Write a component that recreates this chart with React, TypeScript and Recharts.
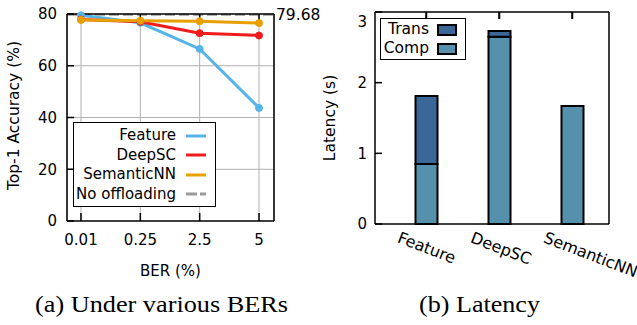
import React from 'react';
import {
  LineChart, Line, XAxis, YAxis, CartesianGrid, ReferenceLine, Legend,
  BarChart, Bar,
} from 'recharts';

// ---- data: (a) accuracy under various BERs ----
const berLabels = ['0.01', '0.25', '2.5', '5'];
const featureAcc = [79.5, 76.6, 66.5, 43.7];
const deepscAcc = [77.9, 77.0, 72.6, 71.7];
const semanticAcc = [77.7, 77.4, 77.2, 76.5];
const noOffloadingAcc = 79.68;
const accTicks = [0, 20, 40, 60, 80];

// ---- data: (b) latency ----
const methods = ['Feature', 'DeepSC', 'SemanticNN'];
const compLatency = [0.85, 2.65, 1.67];
const transLatency = [0.96, 0.08, 0];
const latTicks = [0, 1, 2, 3];
const latMax = 3;

const accData = berLabels.map((b, i) => ({
  ber: b,
  feature: featureAcc[i],
  deepsc: deepscAcc[i],
  semantic: semanticAcc[i],
}));
const latData = methods.map((m, i) => ({
  name: m,
  comp: compLatency[i],
  trans: transLatency[i],
}));

const SANS = 'DejaVu Sans';
const C_FEATURE = '#56b4e9';
const C_DEEPSC = '#ee1c1c';
const C_SEMANTIC = '#e8a000';
const C_NOOFF = '#999999';
const C_TRANS = '#3b6798';
const C_COMP = '#5591ad';

const tickStyle = { fontFamily: SANS, fontSize: 15, fill: '#000' };
const blank = () => '';

// bar background slot -> short inward tick mark hanging from the top frame at the bar centre
const TopTickBackground = (p: any) => {
  if (p.x == null || p.width == null || p.y == null) return <g />;
  const cx = p.x + p.width / 2;
  return <line x1={cx} x2={cx} y1={p.y} y2={p.y + 7} stroke="#000" strokeWidth={1.5} />;
};

const AccLegend = () => {
  const rows = [
    { label: 'Feature', color: C_FEATURE, dash: undefined },
    { label: 'DeepSC', color: C_DEEPSC, dash: undefined },
    { label: 'SemanticNN', color: C_SEMANTIC, dash: undefined },
    { label: 'No offloading', color: C_NOOFF, dash: '11 3' },
  ];
  return (
    <div
      style={{
        background: '#fff',
        border: '1.5px solid #000',
        width: 141,
        padding: '3px 0 2px 0',
        boxSizing: 'content-box',
        fontFamily: SANS,
        fontSize: 15,
        color: '#000',
        textAlign: 'right',
      }}
    >
      {rows.map((r) => (
        <div
          key={r.label}
          style={{
            height: 19.5,
            display: 'flex',
            alignItems: 'center',
            justifyContent: 'flex-end',
            paddingRight: 9,
          }}
        >
          <span style={{ lineHeight: '19.5px', whiteSpace: 'nowrap' }}>{r.label}</span>
          <svg width={20} height={6} style={{ marginLeft: 10, flex: 'none' }}>
            <line x1={0} y1={3} x2={20} y2={3} stroke={r.color} strokeWidth={3} strokeDasharray={r.dash} />
          </svg>
        </div>
      ))}
    </div>
  );
};

const LatLegend = () => {
  const rows = [
    { label: 'Trans', color: C_TRANS },
    { label: 'Comp', color: C_COMP },
  ];
  return (
    <div
      style={{
        background: '#fff',
        border: '1.5px solid #000',
        width: 84,
        padding: '1px 0 1px 0',
        fontFamily: SANS,
        fontSize: 15.5,
        color: '#000',
      }}
    >
      {rows.map((r) => (
        <div
          key={r.label}
          style={{
            height: 19,
            display: 'flex',
            alignItems: 'center',
            justifyContent: 'flex-end',
            paddingRight: 8,
          }}
        >
          <span style={{ lineHeight: '19px', whiteSpace: 'nowrap' }}>{r.label}</span>
          <div
            style={{
              width: 16,
              height: 8,
              marginLeft: 8,
              background: r.color,
              border: '2px solid #000',
              flex: 'none',
            }}
          />
        </div>
      ))}
    </div>
  );
};

const RotatedTick = (props: any) => {
  const { x, y, payload } = props;
  const bx = x - 29.5;
  const by = y + 18;
  return (
    <text
      x={bx}
      y={by}
      transform={`rotate(21, ${bx}, ${by})`}
      textAnchor="start"
      fontFamily={SANS}
      fontSize={16}
      fill="#000"
    >
      {payload.value}
    </text>
  );
};

const LatYTick = (props: any) => {
  const { x, y, payload } = props;
  const shift = payload.value === 3 ? 9.5 : 0;
  return (
    <text x={x} y={y + shift} dy="0.36em" textAnchor="end" fontFamily={SANS} fontSize={15} fill="#000">
      {payload.value}
    </text>
  );
};

const AccChart = () => (
  <LineChart
    width={330}
    height={325}
    data={accData}
    margin={{ top: 13, right: 55, bottom: 49, left: 0 }}
  >
    <CartesianGrid stroke="#b0b0b0" strokeWidth={1} horizontalValues={[20, 40, 60]} />
    <XAxis
      dataKey="ber"
      type="category"
      scale="point"
      padding={{ left: 14, right: 15 }}
      height={55}
      tickSize={-8}
      tickMargin={21}
      tick={tickStyle}
      axisLine={{ stroke: '#000', strokeWidth: 1.5 }}
      tickLine={{ stroke: '#000', strokeWidth: 1.5 }}
      interval={0}
      label={(p: any) => {
        const vb = p.viewBox;
        return (
          <text x={vb.x + vb.width / 2} y={vb.y + 55} textAnchor="middle" fontFamily={SANS} fontSize={15} fill="#000">
            BER (%)
          </text>
        );
      }}
    />
    <XAxis
      xAxisId="top"
      orientation="top"
      dataKey="ber"
      type="category"
      scale="point"
      padding={{ left: 14, right: 15 }}
      height={1}
      ticks={berLabels}
      tickSize={-7}
      tickFormatter={blank}
      interval={0}
      axisLine={{ stroke: '#000', strokeWidth: 1.5 }}
      tickLine={{ stroke: '#000', strokeWidth: 1.5 }}
    />
    <YAxis
      domain={[0, 80]}
      ticks={accTicks}
      width={67}
      tickSize={-7}
      tickMargin={17}
      tick={tickStyle}
      axisLine={{ stroke: '#000', strokeWidth: 1.5 }}
      tickLine={{ stroke: '#000', strokeWidth: 1.5 }}
      label={(p: any) => {
        const vb = p.viewBox;
        const cx = 14;
        const cy = vb.y + vb.height / 2 - 2;
        return (
          <text
            x={cx}
            y={cy}
            transform={`rotate(-90, ${cx}, ${cy})`}
            textAnchor="middle"
            dominantBaseline="central"
            fontFamily={SANS}
            fontSize={15.5}
            fill="#000"
          >
            Top-1 Accuracy (%)
          </text>
        );
      }}
    />
    <YAxis
      yAxisId="right"
      orientation="right"
      domain={[0, 80]}
      width={1}
      tick={false}
      tickLine={false}
      axisLine={{ stroke: '#000', strokeWidth: 1.5 }}
    />
    <ReferenceLine
      y={noOffloadingAcc}
      stroke={C_NOOFF}
      strokeWidth={2}
      strokeDasharray="10 4"
      label={(p: any) => {
        const vb = p.viewBox;
        return (
          <text x={vb.x + vb.width + 2} y={vb.y} dy="0.36em" textAnchor="start" fontFamily={SANS} fontSize={15.5} fill="#000">
            {noOffloadingAcc.toFixed(2)}
          </text>
        );
      }}
    />
    <Line dataKey="feature" stroke={C_FEATURE} strokeWidth={3} dot={{ r: 3.5, fill: C_FEATURE, stroke: C_FEATURE, strokeWidth: 1 }} isAnimationActive={false} />
    <Line dataKey="deepsc" stroke={C_DEEPSC} strokeWidth={3} dot={{ r: 3.5, fill: C_DEEPSC, stroke: C_DEEPSC, strokeWidth: 1 }} isAnimationActive={false} />
    <Line dataKey="semantic" stroke={C_SEMANTIC} strokeWidth={3} dot={{ r: 3.5, fill: C_SEMANTIC, stroke: C_SEMANTIC, strokeWidth: 1 }} isAnimationActive={false} />
    <Legend
      layout="horizontal"
      verticalAlign="middle"
      align="center"
      content={() => <AccLegend />}
      wrapperStyle={{ position: 'absolute', left: 73, top: 122, width: 'auto', height: 'auto' }}
    />
  </LineChart>
);

const LatChart = () => (
  <BarChart
    width={317}
    height={325}
    data={latData}
    margin={{ top: 11, right: 27, bottom: 41, left: 0 }}
  >
    <XAxis
      dataKey="name"
      type="category"
      scale="point"
      padding={{ left: 51, right: 37 }}
      height={60}
      tick={<RotatedTick />}
      tickLine={false}
      tickSize={0}
      tickMargin={0}
      interval={0}
      axisLine={{ stroke: '#000', strokeWidth: 1.5 }}
    />
    <XAxis
      xAxisId="top"
      orientation="top"
      dataKey="name"
      type="category"
      scale="point"
      padding={{ left: 51, right: 37 }}
      height={1}
      ticks={methods}
      tickSize={-7}
      tickFormatter={blank}
      interval={0}
      axisLine={{ stroke: '#000', strokeWidth: 1.5 }}
      tickLine={{ stroke: '#000', strokeWidth: 1.5 }}
    />
    <YAxis
      domain={[0, latMax]}
      ticks={latTicks}
      width={55}
      tickSize={-7}
      tickMargin={15}
      tick={<LatYTick />}
      axisLine={{ stroke: '#000', strokeWidth: 1.5 }}
      tickLine={{ stroke: '#000', strokeWidth: 1.5 }}
      label={(p: any) => {
        const vb = p.viewBox;
        const cx = 10;
        const cy = vb.y + vb.height / 2;
        return (
          <text
            x={cx}
            y={cy}
            transform={`rotate(-90, ${cx}, ${cy})`}
            textAnchor="middle"
            dominantBaseline="central"
            fontFamily={SANS}
            fontSize={15.5}
            fill="#000"
          >
            Latency (s)
          </text>
        );
      }}
    />
    <YAxis
      yAxisId="right"
      orientation="right"
      domain={[0, latMax]}
      width={1}
      tick={false}
      tickLine={false}
      axisLine={{ stroke: '#000', strokeWidth: 1.5 }}
    />
    <Bar
      dataKey="comp"
      stackId="a"
      barSize={22}
      fill={C_COMP}
      stroke="#000"
      strokeWidth={2}
      background={<TopTickBackground />}
      isAnimationActive={false}
    />
    <Bar dataKey="trans" stackId="a" barSize={22} fill={C_TRANS} stroke="#000" strokeWidth={2} isAnimationActive={false} />
    <Legend
      layout="horizontal"
      verticalAlign="middle"
      align="center"
      content={() => <LatLegend />}
      wrapperStyle={{ position: 'absolute', left: 60, top: 18, width: 'auto', height: 'auto' }}
    />
  </BarChart>
);

export default function App() {
  return (
    <div style={{ position: 'absolute', left: 0, top: 0, width: 637, height: 325, background: '#fff', overflow: 'hidden' }}>
      <div style={{ position: 'absolute', left: 0, top: 0 }}>
        <AccChart />
      </div>
      <div style={{ position: 'absolute', left: 320, top: 0 }}>
        <LatChart />
      </div>
      <svg width={637} height={325} style={{ position: 'absolute', left: 0, top: 0, pointerEvents: 'none' }}>
        <text x={35} y={311.5} textLength={253} lengthAdjust="spacingAndGlyphs" fontFamily="Liberation Serif" fontSize={24} fill="#000">
          (a) Under various BERs
        </text>
        <text x={419} y={311.5} textLength={121} lengthAdjust="spacingAndGlyphs" fontFamily="Liberation Serif" fontSize={24} fill="#000">
          (b) Latency
        </text>
      </svg>
    </div>
  );
}
